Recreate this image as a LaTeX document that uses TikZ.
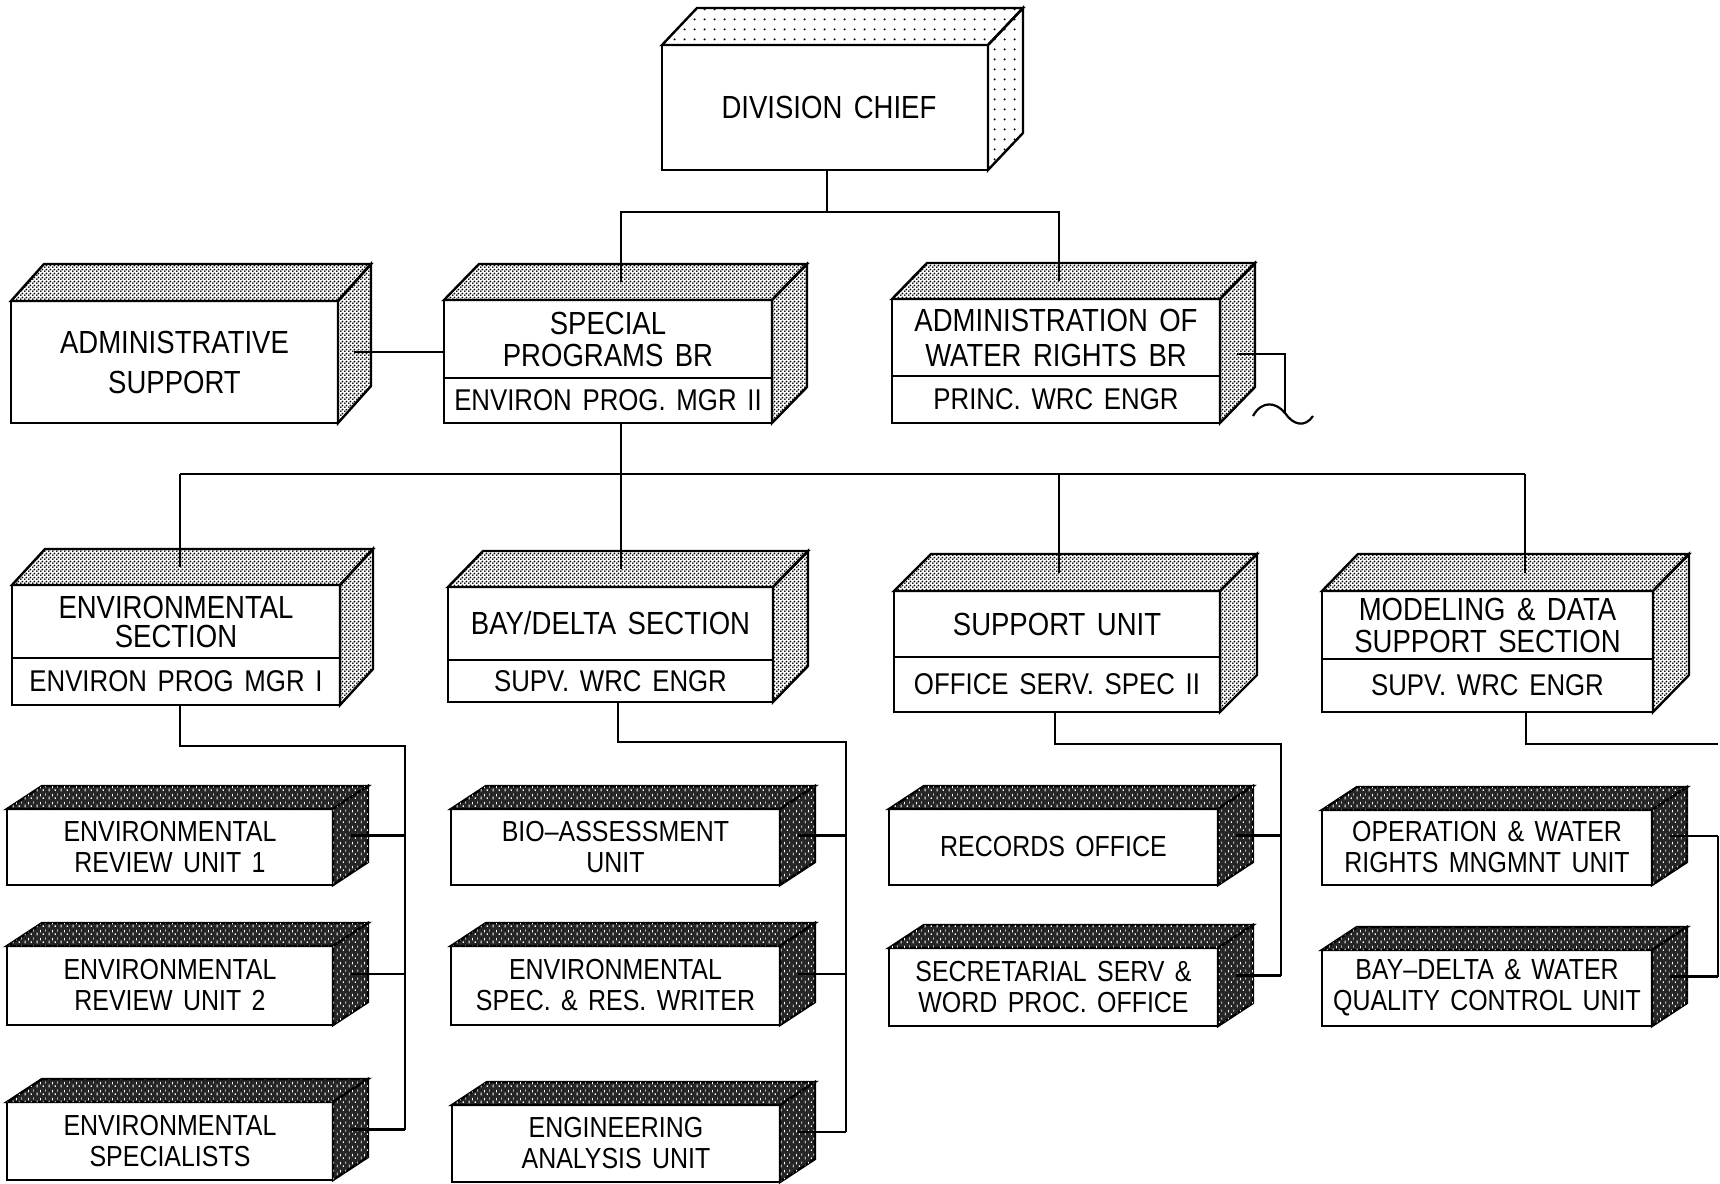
\documentclass[tikz,border=0pt]{standalone}
\usepackage{fontspec}
\setmainfont{Liberation Sans}[FakeStretch=0.86,WordSpace=1.5]
\usetikzlibrary{patterns,calc}

\pgfdeclarepatternformonly{sparsedots}{\pgfpoint{0pt}{0pt}}{\pgfpoint{5pt}{5pt}}{\pgfpoint{5pt}{5pt}}{%
  \pgfpathcircle{\pgfpoint{2.5pt}{2.5pt}}{0.6pt}\pgfusepath{fill}}
\pgfdeclarepatternformonly{densedots}{\pgfpoint{0pt}{0pt}}{\pgfpoint{2pt}{2pt}}{\pgfpoint{2pt}{2pt}}{%
  \pgfpathcircle{\pgfpoint{0.5pt}{0.5pt}}{0.58pt}\pgfpathcircle{\pgfpoint{1.5pt}{1.5pt}}{0.58pt}\pgfusepath{fill}}
\pgfdeclarepatternformonly{specks}{\pgfpoint{0pt}{0pt}}{\pgfpoint{6pt}{4pt}}{\pgfpoint{6pt}{4pt}}{%
  \pgfpathrectangle{\pgfpoint{0.4pt}{0.3pt}}{\pgfpoint{0.5pt}{1.6pt}}%
  \pgfpathrectangle{\pgfpoint{2.2pt}{2.0pt}}{\pgfpoint{0.4pt}{1.4pt}}%
  \pgfpathrectangle{\pgfpoint{3.6pt}{0.6pt}}{\pgfpoint{0.6pt}{0.9pt}}%
  \pgfpathrectangle{\pgfpoint{5.0pt}{2.4pt}}{\pgfpoint{0.4pt}{1.2pt}}%
  \pgfusepath{fill}}

\tikzset{
  box/.style={draw, line width=1.2pt, fill=white, inner sep=0pt, outer sep=0pt},
  faceA/.style={draw, line width=1.2pt, pattern=sparsedots},
  faceB/.style={draw, line width=1.2pt, pattern=densedots},
  faceC/.style={draw, line width=1.2pt, fill=black!85, postaction={pattern=specks, pattern color=white}},
  divl/.style={line width=1.2pt},
  conn/.style={line width=1.1pt},
  bigtxt/.style={font=\fontsize{16}{16}\selectfont, align=center, inner sep=0pt},
  subtxt/.style={font=\fontsize{15}{15}\selectfont, align=center, inner sep=0pt},
  unittxt/.style={font=\fontsize{14.5}{15.5}\selectfont, align=center, inner sep=0pt},
}

\newcommand\mkfront[5]{%
  \node[box, minimum width={(#4-#2)*0.5pt}, minimum height={(#5-#3)*0.5pt}] (#1) at ({(#2+#4)/2},{(#3+#5)/2}) {};}
\newcommand\mkfaces[4]{%
  \path[#4] (#1.north west) -- ++(#2,#3) -- ([shift={(#2,#3)}]#1.north east) -- (#1.north east) -- cycle;
  \path[#4] (#1.north east) -- ([shift={(#2,#3)}]#1.north east) -- ([shift={(#2,#3)}]#1.south east) -- (#1.south east) -- cycle;
  \coordinate (#1-tf) at ([shift={({#2/2},{#3/2})}]#1.north);
  \coordinate (#1-rf) at ([shift={({#2/2},{#3/2})}]#1.east);}
\newcommand\mktwo[8]{%
  \mkfront{#1}{#2}{#3}{#4}{#5}
  \draw[divl] (#1.west |- 0,#6) -- (#1.east |- 0,#6);
  \node[bigtxt] (#1-t) at ({(#2+#4)/2},{(#3+#6)/2}) {#7};
  \node[subtxt] (#1-b) at ({(#2+#4)/2},{(#6+#5)/2}) {#8};}
\newcommand\mkunit[6]{%
  \mkfront{#1}{#2}{#3}{#4}{#5}
  \mkfaces{#1}{35}{-23}{faceC}
  \node[unittxt] (#1-t) at (#1) {#6};}

\begin{document}
\begin{tikzpicture}[x=0.5pt,y=-0.5pt]
\useasboundingbox (0,0) rectangle (1720,1184);
\fill[white] (0,0) rectangle (1720,1184);

% ---- level 0
\mkfront{dc}{662}{45}{988}{170}
\mkfaces{dc}{35}{-37}{faceA}
\node[bigtxt] (dc-t) at ([xshift=2pt]dc) {DIVISION CHIEF};

% ---- level 1
\mkfront{as}{11}{301}{338}{423}
\mkfaces{as}{33}{-37}{faceB}
\node[bigtxt] (as-t) at (as) {ADMINISTRATIVE\\[4pt]SUPPORT};

\mktwo{sp}{444}{300}{772}{423}{378}{SPECIAL\\PROGRAMS BR}{ENVIRON PROG. MGR II}
\mkfaces{sp}{35}{-36}{faceB}

\mktwo{awr}{892}{299}{1220}{423}{376}{ADMINISTRATION OF\\[1.5pt]WATER RIGHTS BR}{PRINC. WRC ENGR}
\mkfaces{awr}{35}{-36}{faceB}

% ---- level 2
\mktwo{es}{12}{585}{340}{705}{658}{ENVIRONMENTAL\\[-1.5pt]SECTION}{ENVIRON PROG MGR I}
\mkfaces{es}{33}{-36}{faceB}
\mktwo{bd}{448}{587}{773}{702}{660}{BAY/DELTA SECTION}{SUPV. WRC ENGR}
\mkfaces{bd}{35}{-36}{faceB}
\mktwo{su}{894}{591}{1220}{712}{657}{SUPPORT UNIT}{OFFICE SERV. SPEC II}
\mkfaces{su}{37}{-37}{faceB}
\mktwo{md}{1322}{591}{1653}{712}{659}{MODELING \& DATA\\SUPPORT SECTION}{SUPV. WRC ENGR}
\mkfaces{md}{36}{-37}{faceB}

% ---- level 3
\mkunit{eru1}{7}{809}{333}{885}{ENVIRONMENTAL\\REVIEW UNIT 1}
\mkunit{eru2}{7}{946}{333}{1025}{ENVIRONMENTAL\\REVIEW UNIT 2}
\mkunit{espc}{7}{1102}{333}{1180}{ENVIRONMENTAL\\SPECIALISTS}
\mkunit{bio}{451}{809}{780}{885}{BIO--ASSESSMENT\\UNIT}
\mkunit{esrw}{451}{946}{780}{1025}{ENVIRONMENTAL\\SPEC. \& RES. WRITER}
\mkunit{eng}{452}{1105}{780}{1182}{ENGINEERING\\ANALYSIS UNIT}
\mkunit{rec}{889}{809}{1218}{885}{RECORDS OFFICE}
\mkunit{sec}{889}{948}{1218}{1026}{SECRETARIAL SERV \&\\WORD PROC. OFFICE}
\mkunit{opw}{1322}{810}{1652}{885}{OPERATION \& WATER\\RIGHTS MNGMNT UNIT}
\mkunit{bdw}{1322}{950}{1652}{1026}{BAY--DELTA \& WATER\\QUALITY CONTROL UNIT}

% ---- connectors
\coordinate (b1) at (827,212);
\coordinate (spx) at (621,0);
\coordinate (awrx) at (1059,0);
\draw[conn] (dc.south -| b1) -- (b1);
\draw[conn] (spx |- sp-tf) |- (b1) -| (awrx |- awr-tf);

\coordinate (asl) at (0,352);
\draw[conn] (sp.west |- asl) -- ($(as.east |- asl)+(16,0)$);

\coordinate (awrl) at (0,354);
\coordinate (brk) at (1285,413);
\draw[conn] ($(awr.east |- awrl)+(17,0)$) -| (brk);
\draw[conn] (1253,416) .. controls (1262,400) and (1276,402) .. (brk)
  .. controls (1293,425) and (1305,428) .. (1313,416);

\coordinate (b2l) at (180,474);
\coordinate (b2r) at (1525,474);
\coordinate (sux) at (1059,474);
\draw[conn] (b2l) -- (b2r);
\draw[conn] (b2l) -- (b2l |- es-tf);
\draw[conn] (sp.south -| spx) -- (spx |- bd-tf);
\draw[conn] (sux) -- (sux |- su-tf);
\draw[conn] (b2r) -- (b2r |- md-tf);

% environmental section
\coordinate (esturn) at (180,746);
\coordinate (esbus) at (405,746);
\draw[conn] (es.south -| esturn) -- (esturn) -- (esbus) -- (esbus |- espc-rf);
\foreach \u in {eru1,eru2,espc} \draw[conn] (\u-rf) -- (\u-rf -| esbus);

% bay/delta section
\coordinate (bdturn) at (618,742);
\coordinate (bdbus) at (846,742);
\draw[conn] (bd.south -| bdturn) -- (bdturn) -- (bdbus) -- (bdbus |- eng-rf);
\foreach \u in {bio,esrw,eng} \draw[conn] (\u-rf) -- (\u-rf -| bdbus);

% support unit
\coordinate (suturn) at (1055,744);
\coordinate (subus) at (1281,744);
\draw[conn] (su.south -| suturn) -- (suturn) -- (subus) -- (subus |- sec-rf);
\foreach \u in {rec,sec} \draw[conn] (\u-rf) -- (\u-rf -| subus);

% modeling section
\coordinate (mdturn) at (1526,744);
\coordinate (mdbus) at (1718,744);
\draw[conn] (md.south -| mdturn) -- (mdturn) -- (mdbus);
\foreach \u in {opw,bdw} \draw[conn] (\u-rf) -- (\u-rf -| mdbus);
\draw[conn] (opw-rf -| mdbus) -- (bdw-rf -| mdbus);
\end{tikzpicture}
\end{document}
